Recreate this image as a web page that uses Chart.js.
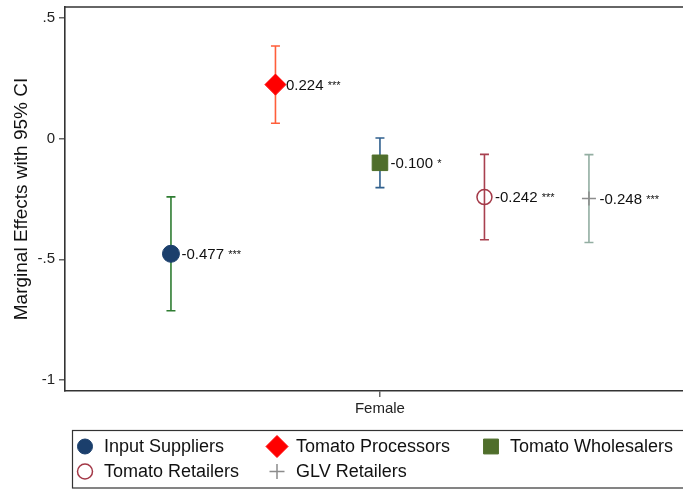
<!DOCTYPE html>
<html>
<head>
<meta charset="utf-8">
<script src="https://cdn.jsdelivr.net/npm/chart.js@4.4.1/dist/chart.umd.min.js"></script>
<style>
  html, body { margin: 0; padding: 0; background: #fff; overflow: hidden; }
  #wrap { width: 683px; height: 489px; position: relative; }
  #effects { display: block; }
</style>
</head>
<body>
<div id="wrap"><canvas id="effects"></canvas></div>
<script>
// marginal effects of "Female" by value-chain actor, with 95% CI
const groups = ["Input Suppliers", "Tomato Processors", "Tomato Wholesalers", "Tomato Retailers", "GLV Retailers"];
const positions = [1, 2, 3, 4, 5];
const effects = [-0.477, 0.224, -0.100, -0.242, -0.248];
const ciLow = [-0.713, 0.064, -0.203, -0.419, -0.430];
const ciHigh = [-0.241, 0.384, 0.003, -0.065, -0.066];
const stars = ["***", "***", "*", "***", "***"];
const yTicks = [-1, -0.5, 0, 0.5];
const xTickValue = 3;
const xTickLabel = "Female";

const FONT = "'Liberation Sans', Arial, sans-serif";

// marker look for each group
const markerStyles = [
  { pointStyle: "circle", radius: 8.5, legendR: 7.5, fill: "#1b3f6c", stroke: "#1b3f6c", ci: "#2f7d32" },
  { pointStyle: "rectRot", radius: 10.5, legendR: 11, fill: "#ff0000", stroke: "#ff0000", ci: "#ff5e3a" },
  { pointStyle: "rect", radius: 11, legendR: 10.5, fill: "#4f6e2b", stroke: "#4f6e2b", ci: "#30608e" },
  { pointStyle: "circle", radius: 7.5, legendR: 7.5, fill: "rgba(0,0,0,0)", stroke: "#a33847", ci: "#a8404f", width: 1.5 },
  { pointStyle: "cross", radius: 7, legendR: 7.5, fill: "#8c8c8c", stroke: "#8c8c8c", ci: "#93aea2", width: 1.5 }
];

const datasets = groups.map((g, i) => ({
  label: g,
  data: [{ x: positions[i], y: effects[i] }],
  ciLow: ciLow[i],
  ciHigh: ciHigh[i],
  stars: stars[i],
  pointStyle: markerStyles[i].pointStyle,
  pointRadius: markerStyles[i].radius,
  pointHoverRadius: markerStyles[i].radius,
  backgroundColor: markerStyles[i].fill,
  borderColor: markerStyles[i].stroke,
  pointBorderWidth: markerStyles[i].width || 1,
  ciColor: markerStyles[i].ci,
  showLine: false
}));

// vertical CI lines with caps, under the markers
const errorBars = {
  id: "errorBars",
  beforeDatasetsDraw(chart) {
    const { ctx, scales: { x, y } } = chart;
    ctx.save();
    chart.data.datasets.forEach((ds) => {
      const px = x.getPixelForValue(ds.data[0].x);
      const lo = y.getPixelForValue(ds.ciLow);
      const hi = y.getPixelForValue(ds.ciHigh);
      ctx.strokeStyle = ds.ciColor;
      ctx.lineWidth = 1.6;
      ctx.beginPath();
      ctx.moveTo(px, lo); ctx.lineTo(px, hi);
      ctx.moveTo(px - 4.5, lo); ctx.lineTo(px + 4.5, lo);
      ctx.moveTo(px - 4.5, hi); ctx.lineTo(px + 4.5, hi);
      ctx.stroke();
    });
    ctx.restore();
  }
};

// "-0.477 ***" next to each marker
const valueLabels = {
  id: "valueLabels",
  afterDatasetsDraw(chart) {
    const { ctx, scales: { x, y } } = chart;
    ctx.save();
    ctx.fillStyle = "#111";
    ctx.textBaseline = "middle";
    ctx.textAlign = "left";
    chart.data.datasets.forEach((ds) => {
      const px = x.getPixelForValue(ds.data[0].x) + 10.5;
      const py = y.getPixelForValue(ds.data[0].y);
      const txt = ds.data[0].y.toFixed(3);
      ctx.font = "15px " + FONT;
      ctx.fillText(txt, px, py + 1);
      const w = ctx.measureText(txt + " ").width;
      ctx.font = "11px " + FONT;
      ctx.fillText(ds.stars, px + w, py + 1);
    });
    ctx.restore();
  }
};

// top edge of the plot box
const frame = {
  id: "frame",
  afterDraw(chart) {
    const { ctx, chartArea: a } = chart;
    ctx.save();
    ctx.strokeStyle = "#333";
    ctx.lineWidth = 1.6;
    ctx.beginPath();
    ctx.moveTo(a.left, a.top);
    ctx.lineTo(a.right + 2, a.top);
    ctx.stroke();
    ctx.restore();
  }
};

// boxed legend under the plot, two rows
const legendSlots = [
  { x: 85, row: 0 }, { x: 277, row: 0 }, { x: 491, row: 0 },
  { x: 85, row: 1 }, { x: 277, row: 1 }
];
const boxLegend = {
  id: "boxLegend",
  afterDraw(chart) {
    const { ctx } = chart;
    const top = 430.5, rowH = 25, firstRow = 446.5;
    ctx.save();
    ctx.strokeStyle = "#333";
    ctx.lineWidth = 1.2;
    ctx.strokeRect(72.5, top, 640, 57.5);
    chart.data.datasets.forEach((ds, i) => {
      const slot = legendSlots[i];
      const cy = firstRow + slot.row * rowH;
      const s = markerStyles[i];
      ctx.fillStyle = s.fill;
      ctx.strokeStyle = s.stroke;
      ctx.lineWidth = s.width || 1;
      Chart.helpers.drawPoint(ctx, { pointStyle: s.pointStyle, radius: s.legendR, rotation: 0, borderWidth: s.width || 1 }, slot.x, cy);
      ctx.fillStyle = "#111";
      ctx.font = "18px " + FONT;
      ctx.textBaseline = "middle";
      ctx.textAlign = "left";
      ctx.fillText(ds.label, slot.x + 19, cy + 1);
    });
    ctx.restore();
  }
};

new Chart(document.getElementById("effects"), {
  type: "scatter",
  data: { datasets },
  options: {
    responsive: true,
    maintainAspectRatio: false,
    animation: false,
    layout: { autoPadding: false, padding: { top: 7, right: 0, bottom: 0, left: 0 } },
    plugins: {
      legend: { display: false },
      tooltip: { enabled: false }
    },
    scales: {
      x: {
        type: "linear",
        min: -0.014,
        max: 5.9,
        afterBuildTicks: (s) => { s.ticks = [{ value: xTickValue }]; },
        afterFit: (s) => { s.height = 98; s.paddingLeft = 0; s.paddingRight = 0; },
        ticks: {
          callback: () => xTickLabel,
          color: "#222",
          font: { family: FONT, size: 15 },
          padding: 3,
          maxRotation: 0
        },
        grid: { drawOnChartArea: false, drawTicks: true, tickLength: 6, color: "#666", lineWidth: 1.5 },
        border: { display: true, color: "#333", width: 1.6 }
      },
      y: {
        min: -1.0456,
        max: 0.5456,
        afterBuildTicks: (s) => { s.ticks = yTicks.map((v) => ({ value: v })); },
        afterFit: (s) => { s.width = 65; s.paddingTop = 0; s.paddingBottom = 0; },
        ticks: {
          callback: (v) => (v === 0 ? "0" : String(v).replace("0.", ".")),
          color: "#222",
          font: { family: FONT, size: 15 },
          padding: 4
        },
        grid: { drawOnChartArea: false, drawTicks: true, tickLength: 6, color: "#666", lineWidth: 1.5 },
        border: { display: true, color: "#333", width: 1.6 },
        title: {
          display: true,
          text: "Marginal Effects with 95% CI",
          color: "#111",
          font: { family: FONT, size: 19 },
          padding: { top: 10, bottom: 0 }
        }
      }
    }
  },
  plugins: [errorBars, valueLabels, frame, boxLegend]
});
</script>
</body>
</html>
